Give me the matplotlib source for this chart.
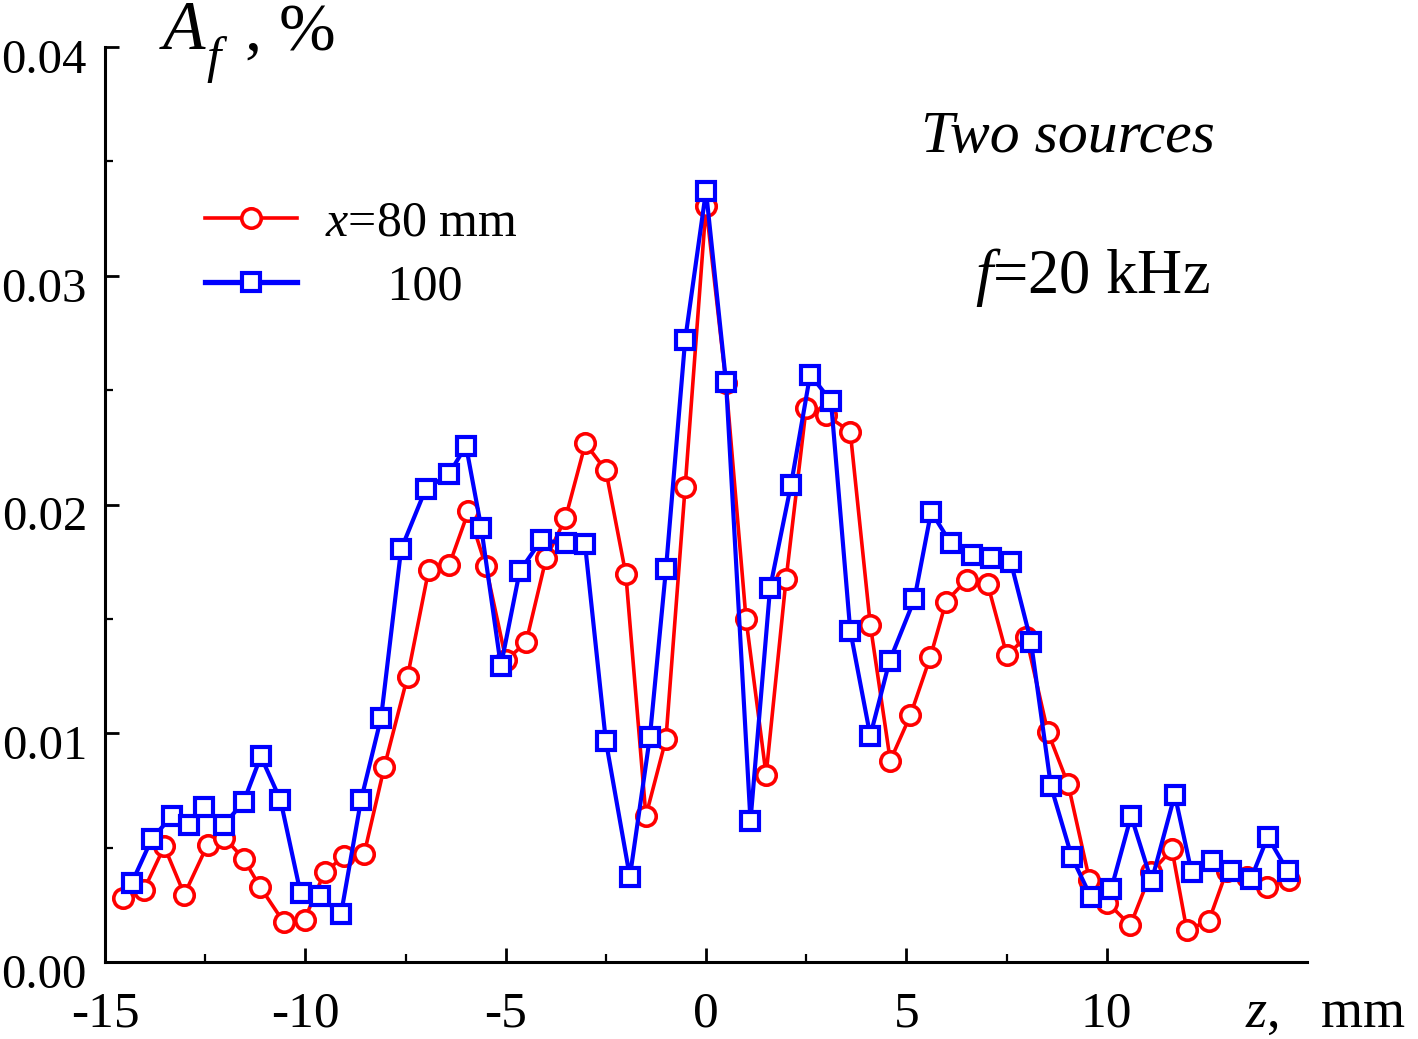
import matplotlib
matplotlib.use('Agg')
import matplotlib.pyplot as plt
from matplotlib.transforms import ScaledTranslation
from matplotlib.lines import Line2D

plt.rcParams['font.family'] = 'Liberation Serif'
plt.rcParams['mathtext.fontset'] = 'custom'
plt.rcParams['mathtext.rm'] = 'Liberation Serif'
plt.rcParams['mathtext.it'] = 'Liberation Serif:italic'

# x = 80 mm (red circles)
z80 = [-14.55, -14.03, -13.52, -13.02, -12.44, -12.02, -11.54, -11.12, -10.54, -10.02,
       -9.52, -9.03, -8.53, -8.03, -7.45, -6.92, -6.41, -5.93, -5.50, -4.99,
       -4.49, -3.99, -3.51, -3.01, -2.50, -2.00, -1.50, -1.00, -0.52, 0.0,
       0.50, 1.00, 1.50, 2.00, 2.50, 3.00, 3.60, 4.10, 4.60, 5.10,
       5.60, 5.99, 6.51, 7.03, 7.51, 7.99, 8.53, 9.04, 9.57, 10.02,
       10.59, 11.11, 11.63, 12.00, 12.55, 13.00, 13.50, 14.00, 14.55]
a80 = [0.00279, 0.00315, 0.00505, 0.00295, 0.00513, 0.00544, 0.00451, 0.00326, 0.00174, 0.00185,
       0.00393, 0.00462, 0.00474, 0.00852, 0.01247, 0.01715, 0.01735, 0.01970, 0.01733, 0.01319,
       0.01398, 0.01765, 0.01939, 0.02267, 0.02149, 0.01694, 0.00639, 0.00974, 0.02078, 0.03304,
       0.02530, 0.01498, 0.00818, 0.01676, 0.02423, 0.02390, 0.02319, 0.01475, 0.00880, 0.01078,
       0.01334, 0.01575, 0.01672, 0.01652, 0.01340, 0.01421, 0.01006, 0.00776, 0.00360, 0.00260,
       0.00160, 0.00392, 0.00492, 0.00140, 0.00180, 0.00400, 0.00370, 0.00330, 0.00360]

# x = 100 mm (blue squares)
z100 = [-14.33, -13.83, -13.33, -12.91, -12.52, -12.04, -11.54, -11.11, -10.62, -10.12,
        -9.63, -9.11, -8.61, -8.11, -7.61, -7.00, -6.41, -5.99, -5.61, -5.12,
        -4.65, -4.12, -3.49, -3.02, -2.50, -1.90, -1.40, -1.00, -0.52, 0.0,
        0.50, 1.11, 1.60, 2.12, 2.60, 3.12, 3.60, 4.10, 4.58, 5.20,
        5.62, 6.11, 6.63, 7.11, 7.61, 8.11, 8.61, 9.13, 9.61, 10.11,
        10.61, 11.12, 11.70, 12.12, 12.62, 13.10, 13.60, 14.02, 14.52]
a100 = [0.00346, 0.00539, 0.00638, 0.00599, 0.00677, 0.00599, 0.00700, 0.00899, 0.00708, 0.00302,
        0.00287, 0.00209, 0.00708, 0.01067, 0.01804, 0.02066, 0.02134, 0.02257, 0.01899, 0.01294,
        0.01708, 0.01843, 0.01832, 0.01828, 0.00967, 0.00372, 0.00985, 0.01716, 0.02720, 0.03371,
        0.02535, 0.00617, 0.01636, 0.02084, 0.02568, 0.02452, 0.01449, 0.00989, 0.01315, 0.01585,
        0.01969, 0.01830, 0.01781, 0.01764, 0.01747, 0.01401, 0.00768, 0.00459, 0.00283, 0.00317,
        0.00638, 0.00353, 0.00731, 0.00392, 0.00442, 0.00397, 0.00363, 0.00547, 0.00397]

W, H = 1418, 1039
fig = plt.figure(figsize=(W / 100, H / 100), dpi=100)
ax = fig.add_axes([105 / W, 1 - 962 / H, (1307 - 105) / W, (962 - 47) / H])

red_kw = dict(color='#ff0000', lw=2.6, marker='o', ms=14, mew=2.6, mfc='white', mec='#ff0000')
blue_kw = dict(color='#0000ff', lw=3.0, marker='s', ms=13.5, mew=3.0, mfc='white', mec='#0000ff')
ax.plot(z80, a80, zorder=3, **red_kw)
ax.plot(z100, a100, zorder=4, **blue_kw)

ax.set_xlim(-15, 15)
ax.set_ylim(0, 0.04)
ax.set_xticks([-15, -10, -5, 0, 5, 10])
ax.set_xticklabels(['-15', '-10', '-5', '0', '5', '10'])
ax.set_xticks([-12.5, -7.5, -2.5, 2.5, 7.5], minor=True)
ax.set_yticks([0, 0.01, 0.02, 0.03, 0.04])
ax.set_yticklabels(['0.00', '0.01', '0.02', '0.03', '0.04'])
ax.set_yticks([0.005, 0.015, 0.025, 0.035], minor=True)

for s in ['top', 'right']:
    ax.spines[s].set_visible(False)
for s in ['left', 'bottom']:
    ax.spines[s].set_linewidth(2.2)
ax.tick_params(which='major', direction='in', length=10, width=2)
ax.tick_params(which='minor', direction='in', length=5.5, width=1.6)
ax.tick_params(axis='x', which='major', labelsize=37, pad=21)
ax.tick_params(axis='y', which='major', labelsize=35, pad=13)
for lab in ax.get_yticklabels():
    lab.set_transform(lab.get_transform() + ScaledTranslation(0, -9 / 100, fig.dpi_scale_trans))

# axis titles: A_f, %  and  z, mm
fig.text(163 / W, 1 - 49 / H, 'A', fontsize=50, style='italic', va='baseline', ha='left')
fig.text(206 / W, 1 - 72 / H, 'f', fontsize=37, style='italic', va='baseline', ha='left')
fig.text(245 / W, 1 - 50 / H, ', %', fontsize=49, va='baseline', ha='left')
fig.text(1245 / W, 1 - 1027 / H, r'$z$,   mm', fontsize=39, va='baseline', ha='left')

# annotations
fig.text(1215 / W, 1 - 152 / H, 'Two sources', fontsize=43, style='italic', va='baseline', ha='right')
fig.text(1210 / W, 1 - 293 / H, r'$f$=20 kHz', fontsize=45, va='baseline', ha='right')

handles = [Line2D([], [], **red_kw), Line2D([], [], **blue_kw)]
handles[1].set_linewidth(3.8)
leg = ax.legend(handles, [r'$x$=80 mm', '     100'], loc='upper left',
                bbox_to_anchor=(205 / W, 1 - 200 / H), bbox_transform=fig.transFigure,
                frameon=False, fontsize=36, handlelength=1.84, handletextpad=0.56,
                labelspacing=0.35, borderpad=0, borderaxespad=0, numpoints=1)

fig.savefig('out.png', dpi=100)
